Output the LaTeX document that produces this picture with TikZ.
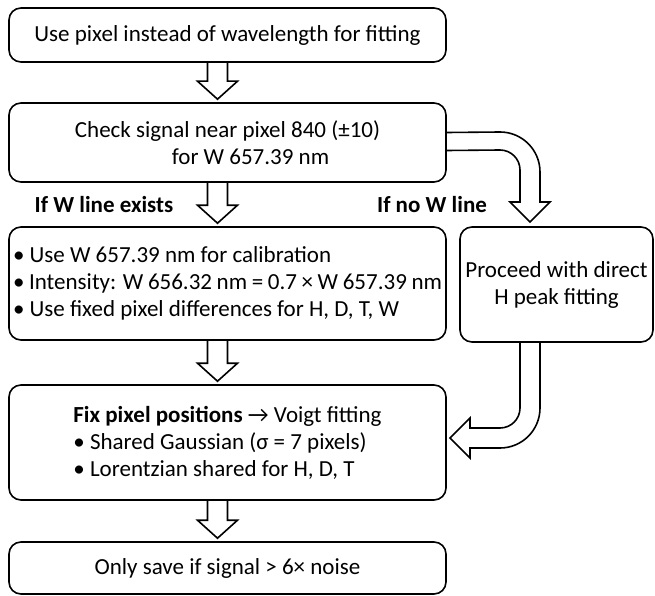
\documentclass[tikz,border=0pt]{standalone}
\usepackage{fontspec}
\setmainfont{Carlito}
\usetikzlibrary{calc}
\tikzset{
  box/.style={draw, line width=1.6pt, rounded corners=12pt, inner xsep=3pt,
    font=\fontsize{23}{27}\selectfont},
  wide/.style={box, minimum width=437pt},
  branch/.style={font=\fontsize{23}{27}\selectfont\bfseries},
  blockarrow/.style={line width=1.6pt, line join=miter},
}
\begin{document}
\begin{tikzpicture}[x=1pt,y=1pt]
  \useasboundingbox (0,0) rectangle (655,-596);
  % boxes
  \node[wide, minimum height=54pt] (pixel) at (227.5,-35) {Use pixel instead of wavelength for fitting};
  \node[wide, minimum height=79pt, align=center] (check) at (227.5,-142.5)
    {Check signal near pixel 840 (±10)\\\hspace*{2em}for W 657.39 nm};
  \node[wide, minimum height=113pt, text width=429pt, align=flush left] (calib) at (227.5,-283.5)
    {• Use W 657.39 nm for calibration\\
     • Intensity: W 656.32 nm = 0.7 × W 657.39 nm\\
     • Use fixed pixel differences for H, D, T, W};
  \node[box, minimum width=193pt, minimum height=115pt, align=center] (direct) at (556.5,-284.5)
    {Proceed with direct\\H peak fitting};
  \node[wide, minimum height=115pt, align=left] (fix) at (227.5,-442.5)
    {\textbf{Fix pixel positions} → Voigt fitting\\
     • Shared Gaussian (σ = 7 pixels)\\
     • Lorentzian shared for H, D, T};
  \node[wide, minimum height=52pt] (save) at (227.5,-568) {Only save if signal > 6× noise};
  % branch labels
  \node[branch] (yes) at (104,-205) {If W line exists};
  \node[branch] (no) at (432,-205) {If no W line};
  % straight arrows
  \foreach \a/\b in {pixel/check, check/calib, calib/fix, fix/save} {
    \draw[blockarrow] ([xshift=-20pt]\a.south) -- ([xshift=-20pt,yshift=21pt]\b.north)
      -- ([xshift=-30pt,yshift=21pt]\b.north) -- ([xshift=-10pt,yshift=3pt]\b.north)
      -- ([xshift=10pt,yshift=21pt]\b.north) -- ([yshift=21pt]\b.north) -- (\a.south);
  }
  % curved arrows
  \draw[blockarrow] ([yshift=10pt]check.east) -- (500,-132) arc[start angle=90, end angle=0, radius=40]
    -- (540,-202) -- (550,-202) -- (530,-222) -- (510,-202) -- (520,-202) -- (520,-170)
    arc[start angle=0, end angle=90, radius=20] -- ([yshift=-8pt]check.east);
  \draw[blockarrow] (direct.south -| 540,0) -- (540,-408) arc[start angle=0, end angle=-90, radius=40]
    -- (470,-448) -- (470,-458) -- (450,-438) -- (470,-418) -- (470,-428) -- (500,-428)
    arc[start angle=-90, end angle=0, radius=20] -- (direct.south -| 520,0);
\end{tikzpicture}
\end{document}
